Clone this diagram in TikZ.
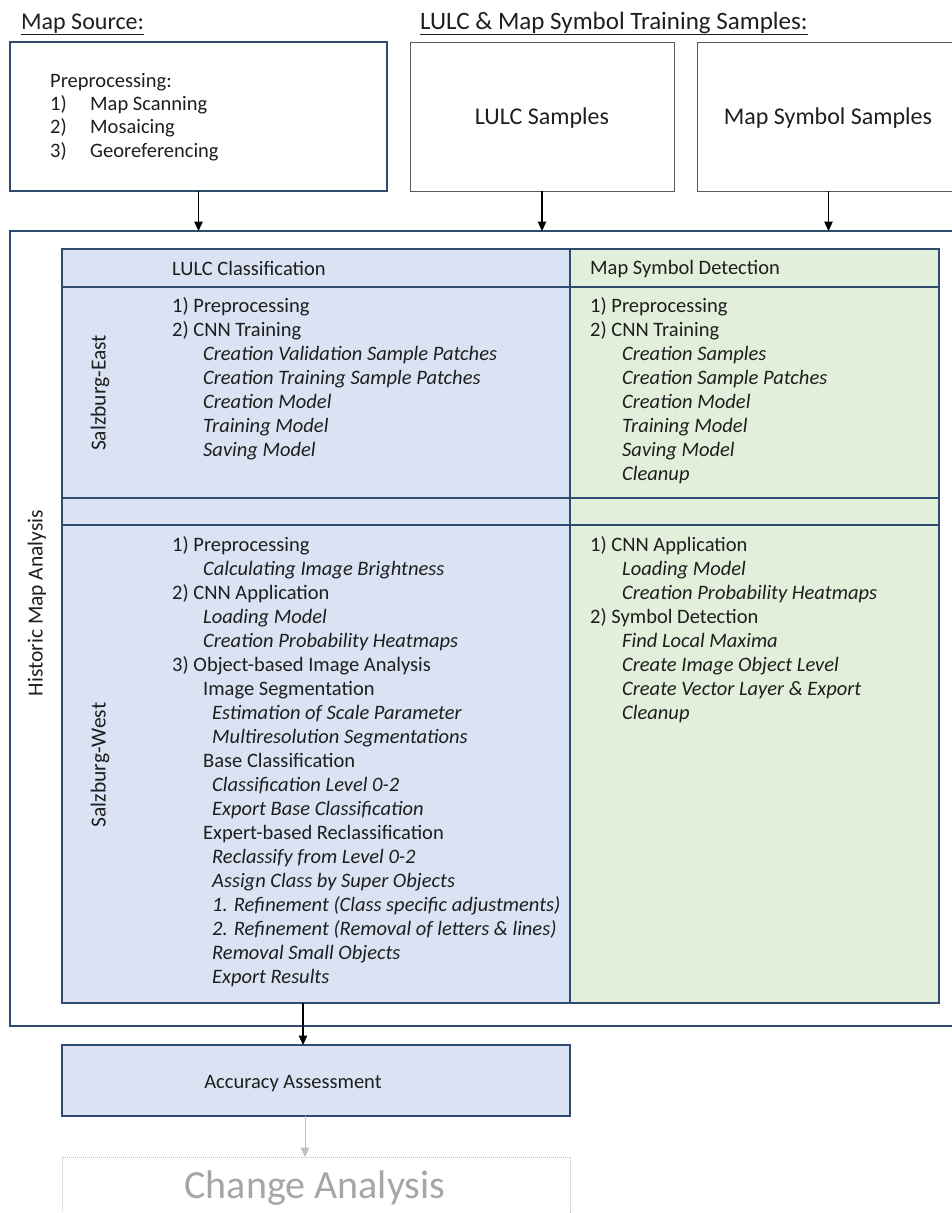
\documentclass[tikz,border=0pt]{standalone}
\usepackage{fontspec}
\setmainfont{Carlito}
\usetikzlibrary{arrows.meta}
\definecolor{bfill}{HTML}{DAE3F3}
\definecolor{gfill}{HTML}{E2EFDA}
\definecolor{bline}{HTML}{2F4B70}
\definecolor{txt}{HTML}{1E1E1E}
\definecolor{lgray}{HTML}{BFBFBF}
\definecolor{tgray}{HTML}{A6A6A6}
\definecolor{dgray}{HTML}{5A5A5A}
\begin{document}
\begin{tikzpicture}[x=1pt,y=-1pt,
  box/.style={draw=bline, line width=1.3pt, inner sep=0pt, outer sep=0pt, anchor=north west},
  cellb/.style={box, fill=bfill},
  cellg/.style={box, fill=gfill},
  lbl/.style={anchor=base west, inner sep=0pt, text=txt, font=\fontsize{20.5}{24}\selectfont},
  big/.style={anchor=base west, inner sep=0pt, text=txt, font=\fontsize{24}{28}\selectfont},
  rot/.style={rotate=90, inner sep=0pt, text=txt, font=\fontsize{21.5}{24}\selectfont},
  arr/.style={-{Triangle[width=8.5pt,length=9.5pt]}, line width=1.2pt, black},
]
\useasboundingbox (0,0) rectangle (951,1213);

% titles
\node[big] (t1) at (21,29) {\underline{Map Source:}};
\node[big, font=\fontsize{25}{28}\selectfont] (t2) at (420,29) {\underline{LULC \& Map Symbol Training Samples:}};

% top boxes
\node[box, minimum width=377pt, minimum height=149pt] (src) at (10,42) {};
\node[box, draw=dgray, line width=1pt, minimum width=264pt, minimum height=149pt] (lulcs) at (410,42) {};
\node[box, draw=dgray, line width=1pt, minimum width=263pt, minimum height=149pt] (syms) at (697,42) {};

\node[lbl] (pp) at (50,87) {Preprocessing:};
\node[lbl] (p1) at (50,110) {1)};
\node[lbl] (p1t) at (90,110) {Map Scanning};
\node[lbl] (p2) at (50,133) {2)};
\node[lbl] (p2t) at (90,133) {Mosaicing};
\node[lbl] (p3) at (50,157) {3)};
\node[lbl] (p3t) at (90,157) {Georeferencing};

\node[big, anchor=base] (ls) at (542,124) {LULC Samples};
\node[big, anchor=base] (ms) at (828,124) {Map Symbol Samples};

% outer box
\node[box, minimum width=950pt, minimum height=795pt] (hma) at (10,231) {};
\node[rot] (hmat) at (37,603) {Historic Map Analysis};

% table cells
\node[cellb, minimum width=508pt, minimum height=38pt] (hL) at (62,249) {};
\node[cellg, minimum width=369pt, minimum height=38pt] (hR) at (570,249) {};
\node[cellb, minimum width=508pt, minimum height=211pt] (eL) at (62,287) {};
\node[cellg, minimum width=369pt, minimum height=211pt] (eR) at (570,287) {};
\node[cellb, minimum width=508pt, minimum height=27pt] (gL) at (62,498) {};
\node[cellg, minimum width=369pt, minimum height=27pt] (gR) at (570,498) {};
\node[cellb, minimum width=508pt, minimum height=478pt] (wL) at (62,525) {};
\node[cellg, minimum width=369pt, minimum height=478pt] (wR) at (570,525) {};

\node[lbl] (hLt) at (172,275) {LULC Classification};
\node[lbl] (hRt) at (590,274) {Map Symbol Detection};

\node[rot] (se) at (100,393) {Salzburg-East};
\node[rot] (sw) at (100,765) {Salzburg-West};

% Salzburg-East, LULC
\foreach \k/\x/\t in {0/172/{1) Preprocessing}, 1/172/{2) CNN Training},
  2/203/{\itshape Creation Validation Sample Patches},
  3/203/{\itshape Creation Training Sample Patches},
  4/203/{\itshape Creation Model},
  5/203/{\itshape Training Model},
  6/203/{\itshape Saving Model}}
  \node[lbl] (el\k) at (\x,{312+24.1*\k}) {\t};

% Salzburg-East, symbols
\foreach \k/\x/\t in {0/590/{1) Preprocessing}, 1/590/{2) CNN Training},
  2/622/{\itshape Creation Samples},
  3/622/{\itshape Creation Sample Patches},
  4/622/{\itshape Creation Model},
  5/622/{\itshape Training Model},
  6/622/{\itshape Saving Model},
  7/622/{\itshape Cleanup}}
  \node[lbl] (er\k) at (\x,{312+24.1*\k}) {\t};

% Salzburg-West, LULC
\foreach \k/\x/\t in {0/172/{1) Preprocessing},
  1/203/{\itshape Calculating Image Brightness},
  2/172/{2) CNN Application},
  3/203/{\itshape Loading Model},
  4/203/{\itshape Creation Probability Heatmaps},
  5/172/{3) Object-based Image Analysis},
  6/203/{Image Segmentation},
  7/212/{\itshape Estimation of Scale Parameter},
  8/212/{\itshape Multiresolution Segmentations},
  9/203/{Base Classification},
  10/212/{\itshape Classification Level 0-2},
  11/212/{\itshape Export Base Classification},
  12/203/{Expert-based Reclassification},
  13/212/{\itshape Reclassify from Level 0-2},
  14/212/{\itshape Assign Class by Super Objects},
  15/212/{\itshape 1. Refinement (Class specific adjustments)},
  16/212/{\itshape 2. Refinement (Removal of letters \& lines)},
  17/212/{\itshape Removal Small Objects},
  18/212/{\itshape Export Results}}
  \node[lbl] (wl\k) at (\x,{551+24*\k}) {\t};

% Salzburg-West, symbols
\foreach \k/\x/\t in {0/590/{1) CNN Application},
  1/622/{\itshape Loading Model},
  2/622/{\itshape Creation Probability Heatmaps},
  3/590/{2) Symbol Detection},
  4/622/{\itshape Find Local Maxima},
  5/622/{\itshape Create Image Object Level},
  6/622/{\itshape Create Vector Layer \& Export},
  7/622/{\itshape Cleanup}}
  \node[lbl] (wr\k) at (\x,{551+24*\k}) {\t};

% bottom boxes
\node[cellb, minimum width=508pt, minimum height=71pt] (acc) at (62,1045) {};
\node[lbl, anchor=base] (acct) at (293,1088) {Accuracy Assessment};
\node[box, draw=lgray, line width=1pt, densely dotted, minimum width=508pt, minimum height=80pt] (chg) at (62,1157) {};
\node[anchor=base, inner sep=0pt, text=tgray, font=\fontsize{40}{44}\selectfont] (chgt) at (315,1198) {Change Analysis};

% connectors
\draw[arr] (src.south) -- (src.south |- hma.north);
\draw[arr] (lulcs.south) -- (lulcs.south |- hma.north);
\draw[arr] (syms.south) -- (syms.south |- hma.north);
\coordinate (a1) at (303,1003);
\draw[arr] (a1) -- (a1 |- acc.north);
\coordinate (a2) at (305,1116);
\draw[arr, draw=lgray, fill=lgray, line width=1pt] (a2) -- (a2 |- chg.north);
\end{tikzpicture}
\end{document}
